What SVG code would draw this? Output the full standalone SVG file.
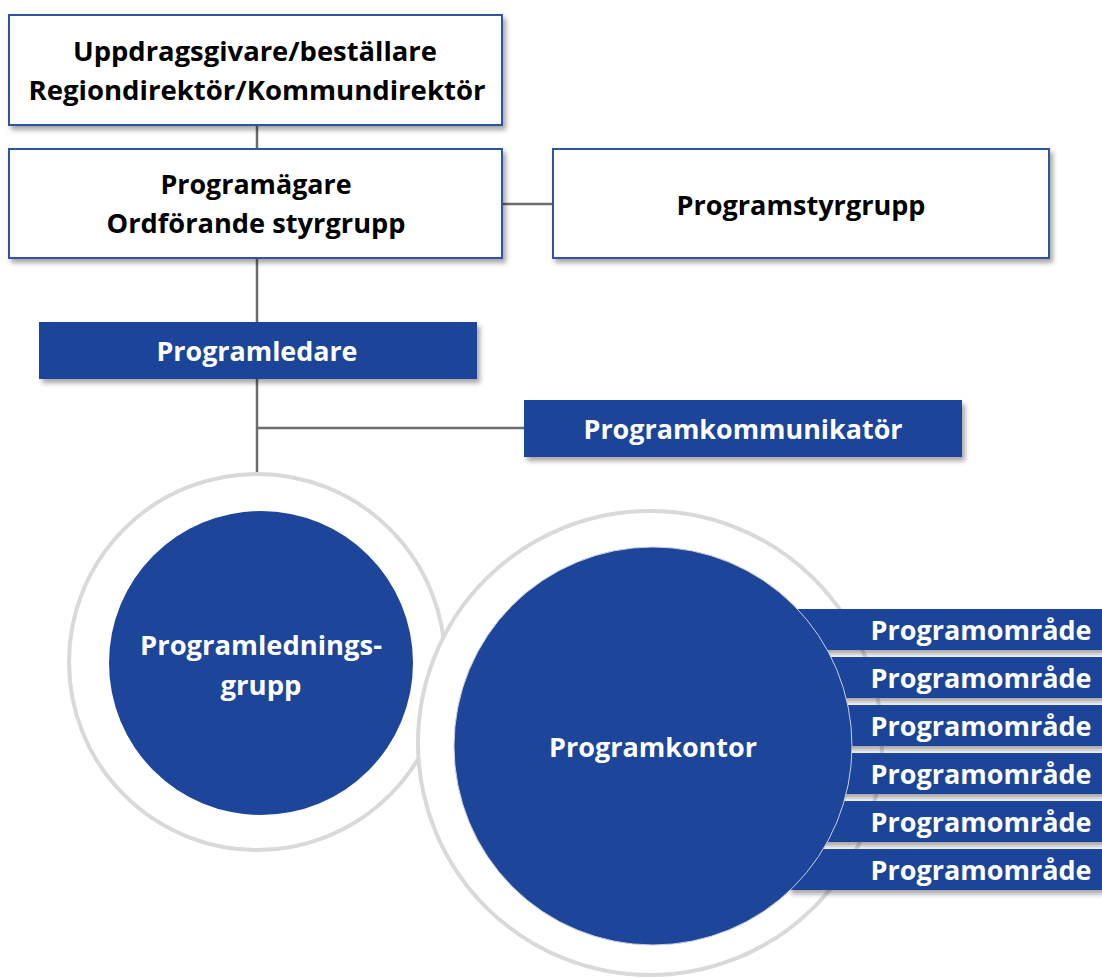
<svg xmlns="http://www.w3.org/2000/svg" width="1102" height="979" viewBox="0 0 1102 979">
<defs>
<style>
.wbox{fill:#ffffff;stroke:#2f53a6;stroke-width:2}
.bbox{fill:#1d4599}
.ring{fill:#ffffff;stroke:#d9d9d9;stroke-width:4}
.disc{fill:#1d4599}
.conn{stroke:#6b6b6b;stroke-width:2.5;fill:none}
.t{font-family:"Open Sans","Noto Sans","Liberation Sans",sans-serif;font-weight:700;font-size:27px;text-anchor:middle}
.tk{fill:#000000}
.tw{fill:#ffffff}
</style>
<filter id="sh" x="-10%" y="-20%" width="125%" height="150%">
<feDropShadow dx="3" dy="4" stdDeviation="2.5" flood-color="#000000" flood-opacity="0.35"/>
</filter>
</defs>
<rect width="1102" height="979" fill="#ffffff"/>
<g id="connectors">
<line class="conn" x1="257" y1="125" x2="257" y2="149"/>
<line class="conn" x1="257" y1="258" x2="257" y2="322"/>
<line class="conn" x1="257" y1="379" x2="257" y2="474"/>
<line class="conn" x1="257" y1="428" x2="524" y2="428"/>
<line class="conn" x1="502" y1="204" x2="553" y2="204"/>
</g>
<g id="uppdragsgivare">
<rect class="wbox" x="9" y="15" width="493" height="110" filter="url(#sh)"/>
<text class="t tk" x="255" y="61" textLength="364" lengthAdjust="spacingAndGlyphs">Uppdragsgivare/beställare</text>
<text class="t tk" x="257" y="100" textLength="457" lengthAdjust="spacingAndGlyphs">Regiondirektör/Kommundirektör</text>
</g>
<g id="programagare">
<rect class="wbox" x="9" y="149" width="493" height="109" filter="url(#sh)"/>
<text class="t tk" x="256" y="194" textLength="191" lengthAdjust="spacingAndGlyphs">Programägare</text>
<text class="t tk" x="256" y="233" textLength="299" lengthAdjust="spacingAndGlyphs">Ordförande styrgrupp</text>
</g>
<g id="programstyrgrupp">
<rect class="wbox" x="553" y="149" width="496" height="109" filter="url(#sh)"/>
<text class="t tk" x="801" y="215" textLength="249" lengthAdjust="spacingAndGlyphs">Programstyrgrupp</text>
</g>
<g id="programledare">
<rect class="bbox" x="39" y="322" width="438" height="57" filter="url(#sh)"/>
<text class="t tw" x="257" y="361" textLength="201" lengthAdjust="spacingAndGlyphs">Programledare</text>
</g>
<g id="programkommunikator">
<rect class="bbox" x="524" y="400" width="438" height="57" filter="url(#sh)"/>
<text class="t tw" x="743" y="439" textLength="319" lengthAdjust="spacingAndGlyphs">Programkommunikatör</text>
</g>
<g id="programledningsgrupp">
<circle class="ring" cx="257" cy="662" r="188"/>
<circle class="disc" cx="261" cy="663" r="152"/>
<text class="t tw" x="261" y="655" textLength="242" lengthAdjust="spacingAndGlyphs">Programlednings-</text>
<text class="t tw" x="261" y="695" textLength="81" lengthAdjust="spacingAndGlyphs">grupp</text>
</g>
<g id="programkontor-ring">
<circle class="ring" cx="650" cy="743" r="232"/>
</g>
<g id="programomraden">
<g id="programomrade-1"><rect class="bbox" x="788" y="609" width="314" height="41" filter="url(#sh)"/><text class="t tw" x="981" y="640" textLength="221" lengthAdjust="spacingAndGlyphs">Programområde</text></g>
<g id="programomrade-2"><rect class="bbox" x="788" y="657" width="314" height="41" filter="url(#sh)"/><text class="t tw" x="981" y="688" textLength="221" lengthAdjust="spacingAndGlyphs">Programområde</text></g>
<g id="programomrade-3"><rect class="bbox" x="788" y="705" width="314" height="41" filter="url(#sh)"/><text class="t tw" x="981" y="736" textLength="221" lengthAdjust="spacingAndGlyphs">Programområde</text></g>
<g id="programomrade-4"><rect class="bbox" x="788" y="753" width="314" height="41" filter="url(#sh)"/><text class="t tw" x="981" y="784" textLength="221" lengthAdjust="spacingAndGlyphs">Programområde</text></g>
<g id="programomrade-5"><rect class="bbox" x="788" y="801" width="314" height="41" filter="url(#sh)"/><text class="t tw" x="981" y="832" textLength="221" lengthAdjust="spacingAndGlyphs">Programområde</text></g>
<g id="programomrade-6"><rect class="bbox" x="788" y="849" width="314" height="41" filter="url(#sh)"/><text class="t tw" x="981" y="880" textLength="221" lengthAdjust="spacingAndGlyphs">Programområde</text></g>
</g>
<g id="programkontor">
<circle class="disc" cx="653" cy="746" r="199" stroke="#c9cfe0" stroke-width="1"/>
<text class="t tw" x="653" y="757" textLength="208" lengthAdjust="spacingAndGlyphs">Programkontor</text>
</g>
</svg>
